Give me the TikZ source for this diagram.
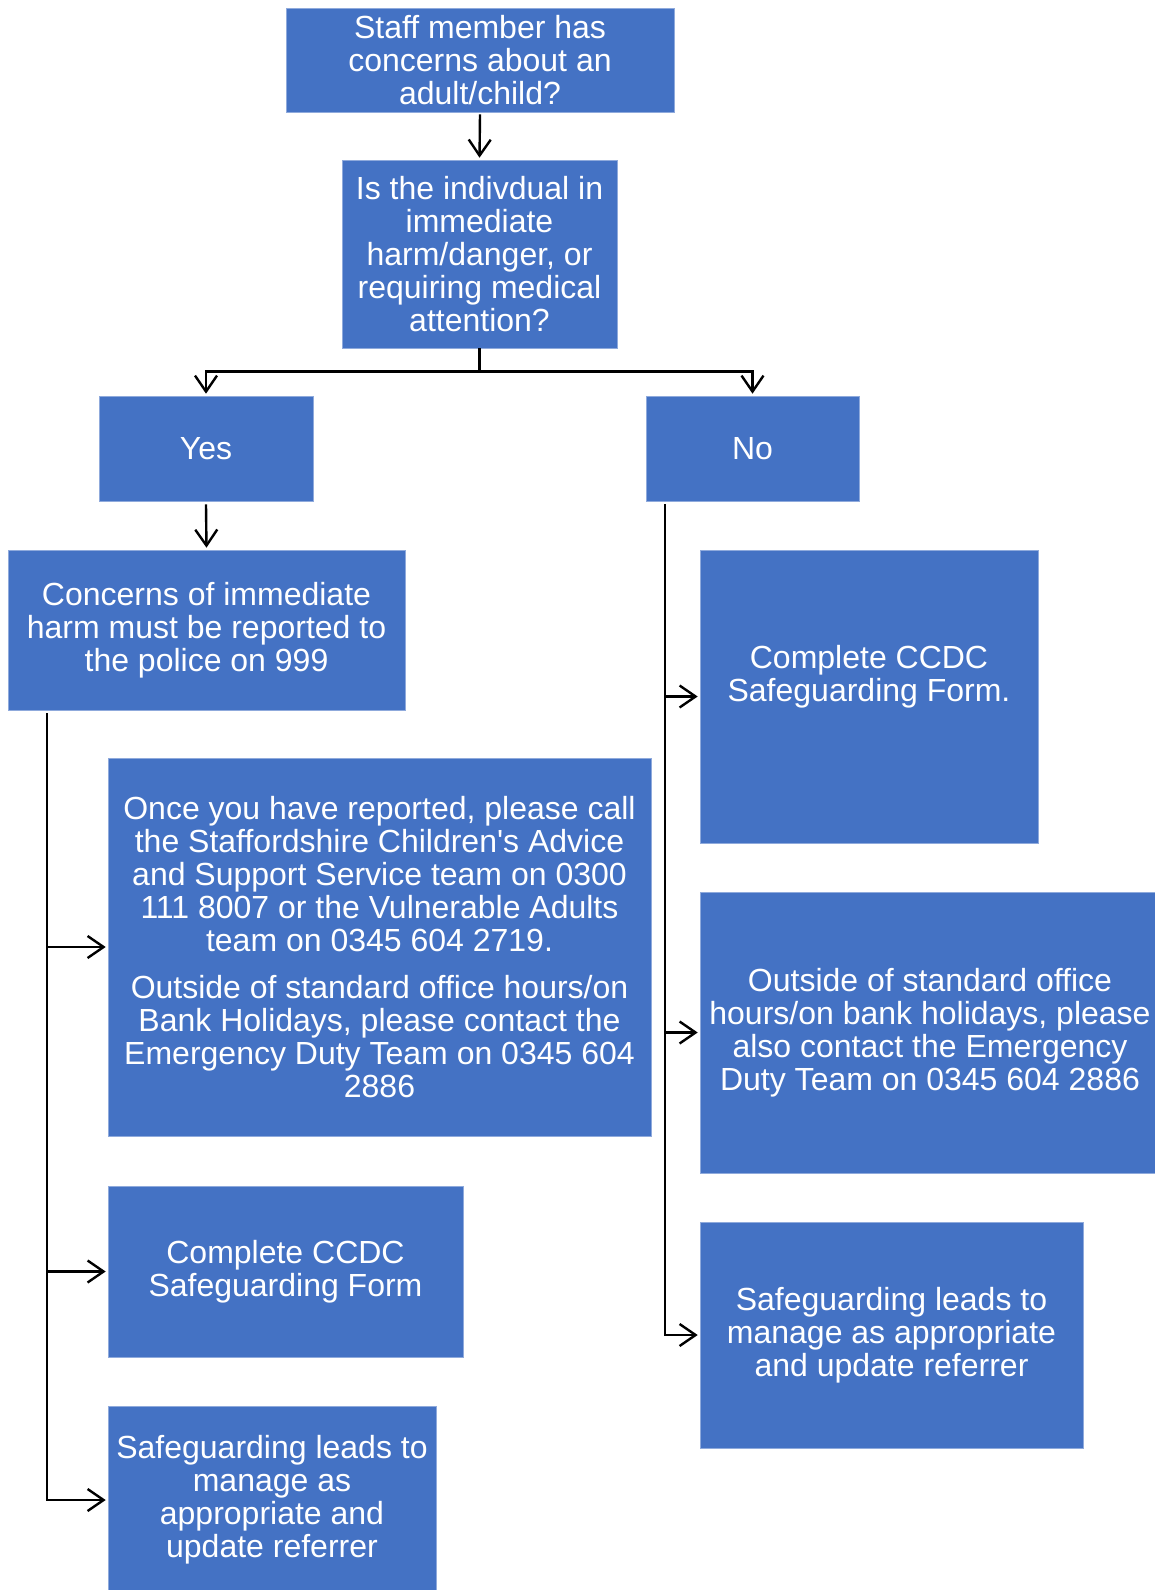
\documentclass[tikz,border=0pt]{standalone}
\usepackage{fontspec}
\setmainfont{Liberation Sans}
\usetikzlibrary{arrows.meta}
\definecolor{boxblue}{HTML}{4472C4}
\definecolor{boxedge}{HTML}{8FAADC}
\begin{document}
\begin{tikzpicture}[x=1pt,y=-1pt,
  box/.style={rectangle,fill=boxblue,draw=boxedge,line width=0.6pt,inner sep=0pt,
    align=center,text=white,font=\fontsize{32}{33}\selectfont},
  txt/.style={inner sep=0pt,align=center,text=white,font=\fontsize{32}{33}\selectfont},
  conn/.style={draw=black,line width=2.4pt},
  arr/.style={conn,-{Straight Barb[length=16pt,width=22pt,line width=2.4pt]},shorten >=2pt}]
\useasboundingbox (0,0) rectangle (1155,1590);
% boxes
\node[box,minimum width=388pt,minimum height=104pt] (top) at (480,60)
  {Staff member has\\concerns about an\\adult/child?};
\node[box,minimum width=275pt,minimum height=188pt] (q) at (479.5,254)
  {Is the indivdual in\\immediate\\harm/danger, or\\requiring medical\\attention?};
\node[box,minimum width=214pt,minimum height=105pt] (yes) at (206,448.5) {Yes};
\node[box,minimum width=213pt,minimum height=105pt] (no) at (752.5,448.5) {No};
\node[box,minimum width=397pt,minimum height=160pt] (concerns) at (206.5,630)
  {Concerns of immediate\\harm must be reported to\\the police on 999};
\node[box,minimum width=543pt,minimum height=378pt] (once) at (379.5,947)
  {Once you have reported, please call\\the Staffordshire Children\textquotesingle s Advice\\and Support Service team on 0300\\111 8007 or the Vulnerable Adults\\team on 0345 604 2719.\\[14pt]
   Outside of standard office hours/on\\Bank Holidays, please contact the\\Emergency Duty Team on 0345 604\\2886};
\node[box,minimum width=355pt,minimum height=171pt] (compL) at (285.5,1271.5)
  {Complete CCDC\\Safeguarding Form};
\node[box,minimum width=328pt,minimum height=188pt] (safeL) at (272,1500)
  {Safeguarding leads to\\manage as\\appropriate and\\update referrer};
\node[box,minimum width=338pt,minimum height=293pt] (compR) at (869,696.5) {};
\node[txt] (compRt) at (869,677) {Complete CCDC\\Safeguarding Form.};
\node[box,minimum width=460pt,minimum height=281pt] (outR) at (930,1032.5)
  {Outside of standard office\\hours/on bank holidays, please\\also contact the Emergency\\Duty Team on 0345 604 2886};
\node[box,minimum width=383pt,minimum height=226pt] (safeR) at (891.5,1335)
  {Safeguarding leads to\\manage as appropriate\\and update referrer};
% connectors
\draw[arr] ([yshift=-2pt]top.south) -- (q.north);
\draw[conn] (q.south) -- ++(0,23) coordinate (split);
\draw[arr] (split) -| (yes.north);
\draw[arr] (split) -| (no.north);
\draw[arr] ([yshift=-3pt]yes.south) -- (concerns.north);
\draw[arr] ([xshift=39pt,yshift=-3pt]concerns.south west) |- (once.west);
\draw[arr] ([xshift=39pt,yshift=-3pt]concerns.south west) |- (compL.west);
\draw[arr] ([xshift=39pt,yshift=-3pt]concerns.south west) |- (safeL.west);
\draw[arr] ([xshift=19pt,yshift=-3pt]no.south west) |- (compR.west);
\draw[arr] ([xshift=19pt,yshift=-3pt]no.south west) |- (outR.west);
\draw[arr] ([xshift=19pt,yshift=-3pt]no.south west) |- (safeR.west);
\end{tikzpicture}
\end{document}
